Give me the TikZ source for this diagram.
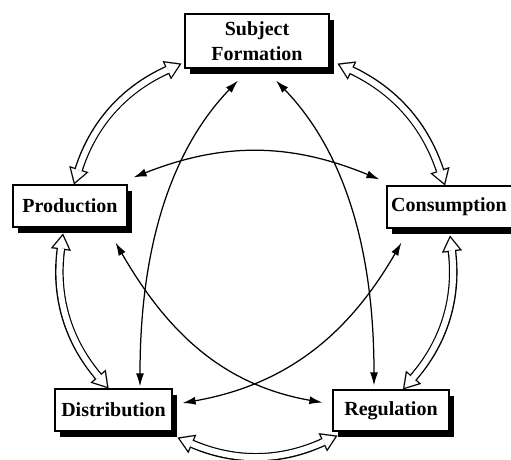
\documentclass[tikz,border=0pt]{standalone}
\usepackage{fontspec}
\setmainfont{Liberation Serif}
\usetikzlibrary{arrows.meta,shadows}

\tikzset{
  box/.style={draw=black, line width=1.2pt, fill=white, inner sep=0pt,
    font=\bfseries\fontsize{20}{25}\selectfont, align=center,
    drop shadow={shadow xshift=5pt, shadow yshift=-5.5pt, fill=black, opacity=1}},
  link/.style={line width=1.25pt,
    {Latex[length=13pt,width=8pt]}-{Latex[length=13pt,width=8pt]}},
  % hollow double arrows: black outline pass, then white inner pass
  wideout/.style={line width=8.6pt, draw=black,
    {Triangle[length=16pt,width=20pt,line width=0.01pt]}-{Triangle[length=16pt,width=20pt,line width=0.01pt]}},
  widein/.style={line width=6pt, draw=white, shorten <=2.45pt, shorten >=2.45pt,
    {Triangle[length=12.25pt,width=15.3pt,line width=0.01pt]}-{Triangle[length=12.25pt,width=15.3pt,line width=0.01pt]}},
}

\begin{document}
\begin{tikzpicture}[x=1pt,y=1pt]
\useasboundingbox (0,0) rectangle (511,-459);

% boxes
\node[box, minimum width=144pt, minimum height=54pt] (sf)   at (257,-41)   {Subject\\Formation};
\node[box, minimum width=114pt, minimum height=42pt] (prod) at (70,-206)   {Production};
\node[box, minimum width=128pt, minimum height=42pt] (cons) at (451,-207)  {\hspace*{-4pt}Consumption};
\node[box, minimum width=117pt, minimum height=42pt] (dist) at (113.5,-410){Distribution};
\node[box, minimum width=116pt, minimum height=41pt] (reg)  at (391,-410.5){Regulation};

% end points of the hollow arrows around the cycle
\coordinate (a1s) at ([shift={(-3,5)}]sf.south west);
\coordinate (a1t) at ([shift={(4,0)}]prod.north);
\coordinate (a2s) at ([shift={(8,5)}]sf.south east);
\coordinate (a2t) at ([shift={(-6,0)}]cons.north);
\coordinate (a3s) at ([shift={(-7,-6)}]prod.south);
\coordinate (a3t) at ([shift={(-5,0)}]dist.north);
\coordinate (a4s) at ([shift={(-1,-7)}]cons.south);
\coordinate (a4t) at ([shift={(12,0)}]reg.north);
\coordinate (a5s) at ([shift={(5,-6)}]dist.south east);
\coordinate (a5t) at ([shift={(5,-4)}]reg.south west);

\foreach \s/\t/\ang in {a1s/a1t/-24, a2s/a2t/23, a3s/a3t/-24, a4s/a4t/24, a5s/a5t/-24}{
  \draw[wideout] (\s) to[bend left=\ang] (\t);
  \draw[widein]  (\s) to[bend left=\ang] (\t);
}

% thin two-way links across the cycle
\draw[link] ([shift={(-19,-12)}]sf.south) .. controls +(-58,-60) and +(0,157) .. ([shift={(26.5,2)}]dist.north);
\draw[link] ([shift={(19,-12)}]sf.south) .. controls +(58,-60) and +(0,157) .. ([shift={(-17,4)}]reg.north);
\draw[link] ([shift={(6,7)}]prod.north east) to[bend left=22] ([shift={(-7,6)}]cons.north west);
\draw[link] ([shift={(-12,-15)}]prod.south east) to[out=-60,in=170] ([shift={(-10,8)}]reg.west);
\draw[link] ([shift={(10,7)}]dist.east) to[out=10,in=240] ([shift={(15,-14)}]cons.south west);
\end{tikzpicture}
\end{document}
